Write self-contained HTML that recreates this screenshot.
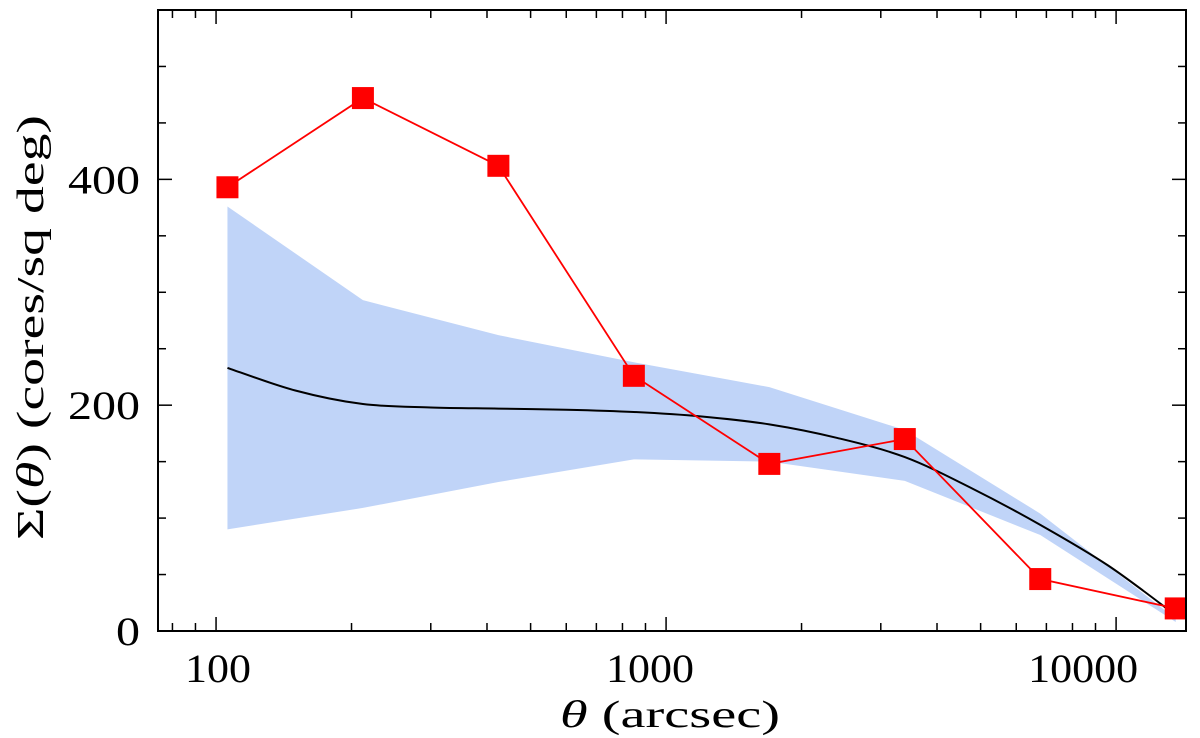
<!DOCTYPE html>
<html><head><meta charset="utf-8"><style>
html,body{margin:0;padding:0;background:#fff;}
svg{display:block;}
text{font-family:"Liberation Serif",serif;fill:#000;}
</style></head><body>
<svg id="chart" width="1200" height="738" viewBox="0 0 1200 738"></svg>
<script>
const thetaPts=[106,212,424,848,1696,3392,6784,13568];
const observed=[393,472,412,226,148,170,46,20];
const modelX=[106,150,212,300,424,600,848,1200,1696,2400,3392,4800,6784,9600,13568];
const modelY=[233,213,201,198,197,196,194,190,183,171,154,126,94,58,14];
const bandUpper=[376,293,262,238,216,178,104,11];
const bandLower=[90,109,132,152,150,133,85,8];
const yTicks=[0,200,400];
const xTickLabels=[100,1000,10000];

const L=158,R=1186,T=10,B=631;
const xmin=74.3,xmax=14300,ymin=0,ymax=550;
const xs=v=>L+(Math.log10(v)-Math.log10(xmin))/(Math.log10(xmax)-Math.log10(xmin))*(R-L);
const ys=v=>B-(v-ymin)/(ymax-ymin)*(B-T);
const NS="http://www.w3.org/2000/svg";
const svg=document.getElementById('chart');
function mk(tag,attrs,parent){const e=document.createElementNS(NS,tag);for(const k in attrs)e.setAttribute(k,attrs[k]);(parent||svg).appendChild(e);return e;}

// band
let d=thetaPts.map((t,i)=>(i?'L':'M')+xs(t)+','+ys(bandUpper[i])).join('');
for(let i=thetaPts.length-1;i>=0;i--)d+='L'+xs(thetaPts[i])+','+ys(bandLower[i]);
const band=mk('path',{d:d+'Z',fill:'#c0d4f8',stroke:'none'});



// model line (smooth Catmull-Rom)
const P=modelX.map((t,i)=>[xs(t),ys(modelY[i])]);
let md='M'+P[0][0]+','+P[0][1];
for(let i=0;i<P.length-1;i++){
  const p0=P[Math.max(0,i-1)],p1=P[i],p2=P[i+1],p3=P[Math.min(P.length-1,i+2)];
  const c1=[p1[0]+(p2[0]-p0[0])/6,p1[1]+(p2[1]-p0[1])/6];
  const c2=[p2[0]-(p3[0]-p1[0])/6,p2[1]-(p3[1]-p1[1])/6];
  md+='C'+c1+' '+c2+' '+p2;
}
const ml=mk('path',{d:md,fill:'none',stroke:'#000','stroke-width':2});



// observed line
const ol=mk('polyline',{points:thetaPts.map((t,i)=>xs(t)+','+ys(observed[i])).join(' '),fill:'none',stroke:'#f00','stroke-width':1.8});


thetaPts.forEach((t,i)=>{
  const m=mk('rect',{x:xs(t)-11,y:ys(observed[i])-11,width:22,height:22,fill:'#f00'});
  
  
});

// frame
const fr=mk('rect',{x:L,y:T,width:R-L,height:B-T,fill:'none',stroke:'#000','stroke-width':2});



// y ticks
for(let v=0;v<=ymax;v+=50){
  const len=(v%200===0)?14:8, y=ys(v);
  mk('line',{x1:L,x2:L+len,y1:y,y2:y,stroke:'#000','stroke-width':1.5});
  mk('line',{x1:R,x2:R-len,y1:y,y2:y,stroke:'#000','stroke-width':1.5});
}
yTicks.forEach(v=>{
  const s=String(v);
  const t=mk('text',{x:140,y:ys(v)+14,'text-anchor':'end','font-size':40,textLength:24*s.length,lengthAdjust:'spacingAndGlyphs'});
  t.textContent=s;
  
  
});
// x ticks
for(let dec=10;dec<=10000;dec*=10){
  for(let k=1;k<10;k++){
    const v=dec*k; if(v<xmin||v>xmax)continue;
    const len=(k===1)?14:8,x=xs(v);
    mk('line',{x1:x,x2:x,y1:B,y2:B-len,stroke:'#000','stroke-width':1.5});
    mk('line',{x1:x,x2:x,y1:T,y2:T+len,stroke:'#000','stroke-width':1.5});
  }
}
const labelShift=[2,-16,-33];
xTickLabels.forEach((v,i)=>{
  const s=String(v);
  const w=22*s.length;
  const t=mk('text',{x:xs(v)+labelShift[i]-w/2,y:682,'font-size':40,textLength:w,lengthAdjust:'spacingAndGlyphs'});
  t.textContent=s;
  
  
});
const xt=mk('text',{x:560,y:727,'font-size':38,textLength:220,lengthAdjust:'spacingAndGlyphs'});
xt.innerHTML='<tspan font-style="italic">θ</tspan> (arcsec)';


const yt=mk('text',{x:-540,y:0,'font-size':38,textLength:425,lengthAdjust:'spacingAndGlyphs',transform:'translate(43,0) rotate(-90)'});
yt.innerHTML='Σ(<tspan font-style="italic">θ</tspan>) (cores/sq deg)';


</script>
</body></html>
